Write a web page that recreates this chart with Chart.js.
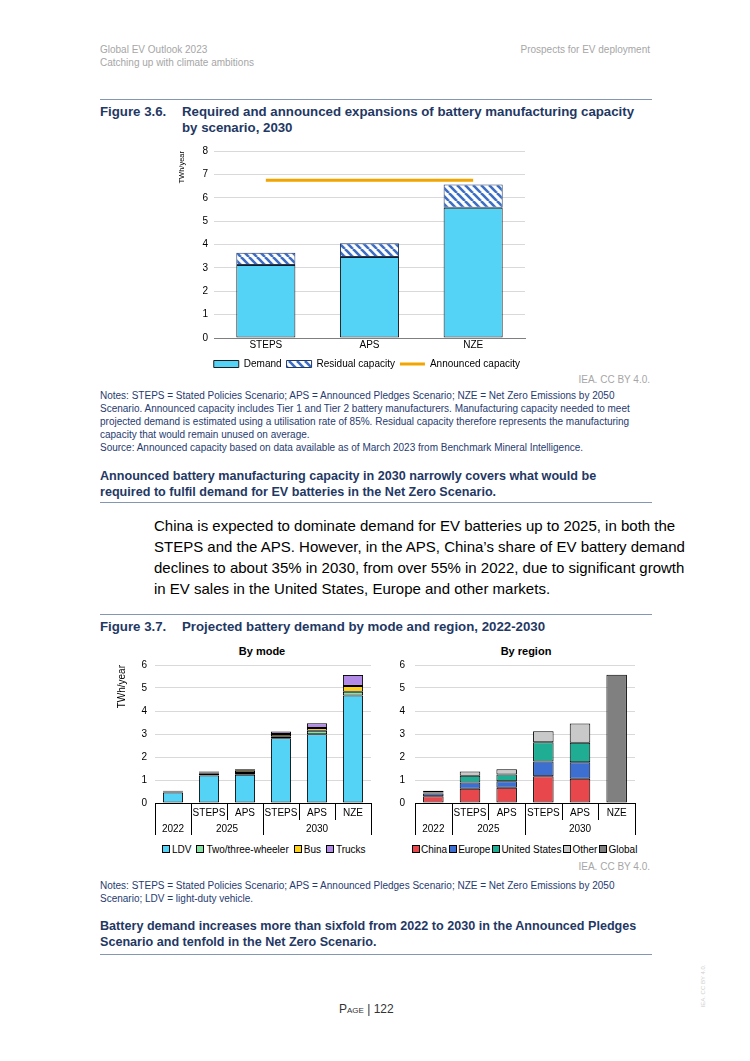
<!DOCTYPE html>
<html>
<head>
<meta charset="utf-8">
<script src="https://cdn.jsdelivr.net/npm/chart.js@4.4.0/dist/chart.umd.min.js"></script>
<style>
  body { margin: 0; width: 750px; height: 1061px; position: relative; background: #fff; overflow: hidden;
         font-family: Arial, "Liberation Sans", sans-serif; }
  .abs { position: absolute; white-space: nowrap; }
  .hdr { color: #a6a6a6; font-size: 10px; line-height: 13px; }
  .rule { position: absolute; left: 100px; width: 552px; height: 0; border-top: 1.5px solid #8497b0; }
  .ftitle { color: #1f3864; font-weight: bold; font-size: 13.25px; line-height: 16px; }
  .stmt { color: #1f3864; font-weight: bold; font-size: 12.6px; line-height: 16px; left: 100px; }
  .notes { color: #1f3b70; font-size: 10px; line-height: 13px; left: 100px; }
  .credit { color: #a6a6a6; font-size: 10px; line-height: 12px; right: 100px; }
  .body { position: absolute; left: 154px; width: 496px; font-size: 15px; line-height: 21px; color: #000; }
  .body div { text-align: justify; text-align-last: justify; white-space: nowrap; }
  .body div.last { text-align-last: left; }
  .box { position: absolute; }
  .sub { color: #000; font-weight: bold; font-size: 11px; line-height: 14px; text-align: center; }
  .leg { position: absolute; display: flex; align-items: center; font-size: 10px; color: #000; white-space: nowrap; }
  .leg span.sw { display: inline-block; width: 6px; height: 6px; border: 1px solid #000; margin-right: 2px; }
  .leg span.it { margin-right: 5px; display: inline-flex; align-items: center; }
  .leg.tight span.sw { margin-right: 1px; }
  .leg.tight span.it { margin-right: 2px; }
</style>
</head>
<body>

<div class="abs hdr" style="left:100px;top:43px">Global EV Outlook 2023</div>
<div class="abs hdr" style="left:100px;top:56px">Catching up with climate ambitions</div>
<div class="abs hdr" style="right:100px;top:43px">Prospects for EV deployment</div>

<div class="rule" style="top:99px"></div>
<div class="abs ftitle" style="left:100px;top:104px">Figure 3.6.</div>
<div class="abs ftitle" style="left:182px;top:104px">Required and announced expansions of battery manufacturing capacity<br>by scenario, 2030</div>

<div class="box" style="left:177px;top:145px;width:350px;height:234px"><canvas id="capChart"></canvas></div>

<div class="abs credit" style="top:374px">IEA. CC BY 4.0.</div>
<div class="abs notes" style="top:389px">Notes: STEPS = Stated Policies Scenario; APS = Announced Pledges Scenario; NZE = Net Zero Emissions by 2050<br>Scenario. Announced capacity includes Tier 1 and Tier 2 battery manufacturers. Manufacturing capacity needed to meet<br>projected demand is estimated using a utilisation rate of 85%. Residual capacity therefore represents the manufacturing<br>capacity that would remain unused on average.<br>Source: Announced capacity based on data available as of March 2023 from Benchmark Mineral Intelligence.</div>

<div class="abs stmt" style="top:468px">Announced battery manufacturing capacity in 2030 narrowly covers what would be<br>required to fulfil demand for EV batteries in the Net Zero Scenario.</div>
<div class="rule" style="top:502px"></div>

<div class="body" style="top:515px">
  <div>China is expected to dominate demand for EV batteries up to 2025, in both the</div>
  <div>STEPS and the APS. However, in the APS, China’s share of EV battery demand</div>
  <div>declines to about 35% in 2030, from over 55% in 2022, due to significant growth</div>
  <div class="last">in EV sales in the United States, Europe and other markets.</div>
</div>

<div class="rule" style="top:614px"></div>
<div class="abs ftitle" style="left:100px;top:619px">Figure 3.7.</div>
<div class="abs ftitle" style="left:182px;top:619px">Projected battery demand by mode and region, 2022-2030</div>

<div class="abs sub" style="left:212px;width:100px;top:644px">By mode</div>
<div class="abs sub" style="left:476px;width:100px;top:644px">By region</div>

<div class="box" style="left:116px;top:659px;width:260px;height:178px"><canvas id="modeChart"></canvas></div>
<div class="box" style="left:378px;top:659px;width:262px;height:178px"><canvas id="regionChart"></canvas></div>
<div class="leg" id="modeLegend" style="left:162px;top:843px;height:12px"></div>
<div class="leg tight" id="regionLegend" style="left:412px;top:843px;height:12px"></div>

<div class="abs credit" style="top:861px">IEA. CC BY 4.0.</div>
<div class="abs notes" style="top:879px">Notes: STEPS = Stated Policies Scenario; APS = Announced Pledges Scenario; NZE = Net Zero Emissions by 2050<br>Scenario; LDV = light-duty vehicle.</div>

<div class="abs stmt" style="top:918px">Battery demand increases more than sixfold from 2022 to 2030 in the Announced Pledges<br>Scenario and tenfold in the Net Zero Scenario.</div>
<div class="rule" style="top:954px"></div>

<div class="abs" style="left:339px;top:1002px;font-size:12px;color:#333;font-variant:small-caps">Page | 122</div>
<div class="abs" style="left:682px;top:983px;font-size:6px;color:#d0d0d0;transform:rotate(-90deg)">IEA. CC BY 4.0.</div>

<script>
// Figure 3.6 – capacity by scenario (TWh/year)
const scenarios = ["STEPS", "APS", "NZE"];
const demand = [3.12, 3.46, 5.57];
const residual = [0.53, 0.59, 1.0];
const announced = [6.75, 6.75, 6.75];
const capTicks = [0, 1, 2, 3, 4, 5, 6, 7, 8];

// Figure 3.7 – battery demand (TWh/year)
const periods = ["", "STEPS", "APS", "STEPS", "APS", "NZE"];
const years = ["2022", "2025", "2025", "2030", "2030", "2030"];
const modeNames = ["LDV", "Two/three-wheeler", "Bus", "Trucks"];
const ldv = [0.46, 1.20, 1.23, 2.82, 2.99, 4.67];
const twoThree = [0.04, 0.07, 0.07, 0.08, 0.15, 0.17];
const bus = [0.02, 0.06, 0.10, 0.10, 0.12, 0.25];
const trucks = [0.01, 0.04, 0.07, 0.11, 0.21, 0.48];
const regionNames = ["China", "Europe", "United States", "Other", "Global"];
const china = [0.29, 0.62, 0.66, 1.16, 1.05, null];
const europe = [0.12, 0.27, 0.29, 0.64, 0.72, null];
const unitedStates = [0.05, 0.29, 0.29, 0.84, 0.85, null];
const other = [0.07, 0.19, 0.23, 0.48, 0.84, null];
const globalTotal = [null, null, null, null, null, 5.58];
const demandTicks = [0, 1, 2, 3, 4, 5, 6];

const FONT = "Arial, 'Liberation Sans', sans-serif";
Chart.defaults.font.family = FONT;
Chart.defaults.font.size = 10;
Chart.defaults.color = "#222";
Chart.defaults.animation = false;

const modeColors = ["#55d3f7", "#86e3a3", "#ffd21a", "#b18be6"];
const regionColors = ["#e8474c", "#3d6fd0", "#1fae93", "#c9c9c9", "#808080"];

function hatch() {
    const s = 8;
    const c = document.createElement("canvas");
    c.width = s; c.height = s;
    const g = c.getContext("2d");
    g.fillStyle = "#fff";
    g.fillRect(0, 0, s, s);
    g.strokeStyle = "#3c6ec4";
    g.lineWidth = 2.6;
    for (const k of [-s, 0, s]) {
        g.beginPath(); g.moveTo(k, 0); g.lineTo(k + s, s); g.stroke();
    }
    return g.createPattern(c, "repeat");
}

// y axis: fixed width, no extra top/bottom padding from tick labels
function fixY(width) {
    return (s) => { s.width = width; s.paddingTop = 0; s.paddingBottom = 0; };
}

// two-row category axis (scenario / year) drawn from the x scale
const groupAxis = {
    id: "groupAxis",
    afterDraw(chart) {
        const x = chart.scales.x, ctx = chart.ctx;
        const n = chart.data.labels.length;
        const step = x.getPixelForValue(1) - x.getPixelForValue(0);
        const top = x.top;
        ctx.save();
        ctx.strokeStyle = "#000";
        ctx.lineWidth = 1;
        ctx.fillStyle = "#000";
        ctx.font = "10px " + FONT;
        ctx.textAlign = "center";
        ctx.textBaseline = "middle";
        for (let i = 0; i <= n; i++) {
            const px = Math.round(x.getPixelForValue(i) - step / 2) + 0.5;
            const edge = i === 0 || i === n || years[i] !== years[i - 1];
            ctx.beginPath();
            ctx.moveTo(px, top);
            ctx.lineTo(px, top + (edge ? 32 : 17));
            ctx.stroke();
        }
        chart.data.labels.forEach((p, i) => ctx.fillText(p, x.getPixelForValue(i), top + 10));
        let s = 0;
        for (let i = 1; i <= n; i++) {
            if (i === n || years[i] !== years[s]) {
                ctx.fillText(years[s], (x.getPixelForValue(s) + x.getPixelForValue(i - 1)) / 2, top + 26);
                s = i;
            }
        }
        ctx.restore();
    },
};

new Chart(document.getElementById("capChart"), {
    data: {
        labels: scenarios,
        datasets: [
            { type: "bar", label: "Demand", data: demand, stack: "cap", backgroundColor: "#55d3f7",
              borderColor: "#1a1a1a", borderWidth: 1, borderSkipped: false, barPercentage: 0.57, categoryPercentage: 1 },
            { type: "bar", label: "Residual capacity", data: residual, stack: "cap", backgroundColor: hatch(),
              borderColor: "#1f3864", borderWidth: 1, borderSkipped: false, barPercentage: 0.57, categoryPercentage: 1 },
            { type: "line", label: "Announced capacity", data: announced, stack: "line", borderColor: "#f0a500",
              borderWidth: 3, pointRadius: 0, fill: false },
        ],
    },
    options: {
        responsive: true,
        maintainAspectRatio: false,
        layout: { padding: { top: 6, right: 2, bottom: 0, left: 0 } },
        plugins: {
            tooltip: { enabled: false },
            legend: {
                position: "bottom",
                align: "end",
                labels: {
                    usePointStyle: true, pointStyleWidth: 25, boxHeight: 7, padding: 5, color: "#000",
                    generateLabels(chart) {
                        const items = Chart.defaults.plugins.legend.labels.generateLabels(chart);
                        items.forEach((it) => {
                            it.pointStyle = chart.data.datasets[it.datasetIndex].type === "line" ? "line" : "rect";
                        });
                        return items;
                    },
                },
            },
        },
        scales: {
            x: {
                stacked: true,
                grid: { display: false, drawTicks: false },
                border: { display: true, color: "#7f7f7f" },
                ticks: { padding: 1, color: "#000" },
                afterFit: (s) => { s.height = 16; },
            },
            y: {
                stacked: true, min: 0, max: 8,
                afterBuildTicks: (s) => { s.ticks = capTicks.map((v) => ({ value: v })); },
                grid: { color: "#d9d9d9", drawTicks: false },
                border: { display: false },
                ticks: { padding: 6, color: "#000" },
                title: { display: true, text: "TWh/year", align: "end", padding: 0, color: "#000", font: { size: 7.5 } },
                afterFit: fixY(37),
            },
        },
    },
});

function stackedChart(id, names, series, colors, withTitle, axisWidth, pad) {
    return new Chart(document.getElementById(id), {
        type: "bar",
        data: {
            labels: periods,
            datasets: series.map((d, i) => ({
                label: names[i], data: d, backgroundColor: colors[i], borderColor: "#000",
                borderWidth: 1, borderSkipped: false, barPercentage: 0.56, categoryPercentage: 1,
            })),
        },
        options: {
            responsive: true,
            maintainAspectRatio: false,
            layout: { padding: { top: 6, right: 5, bottom: 0, left: 0 } },
            plugins: { legend: { display: false }, tooltip: { enabled: false } },
            scales: {
                x: {
                    stacked: true,
                    grid: { display: false, drawTicks: false },
                    border: { display: true, color: "#000" },
                    ticks: { display: false },
                    afterFit: (s) => { s.height = 34; },
                },
                y: {
                    stacked: true, min: 0, max: 6,
                    afterBuildTicks: (s) => { s.ticks = demandTicks.map((v) => ({ value: v })); },
                    grid: { color: "#d9d9d9", drawTicks: false },
                    border: { display: false },
                    ticks: { padding: pad, color: "#000" },
                    title: { display: withTitle, text: "TWh/year", align: "end", padding: 0, color: "#000" },
                    afterFit: fixY(axisWidth),
                },
            },
        },
        plugins: [groupAxis],
    });
}

stackedChart("modeChart", modeNames, [ldv, twoThree, bus, trucks], modeColors, true, 39, 8);
stackedChart("regionChart", regionNames, [china, europe, unitedStates, other, globalTotal], regionColors, false, 37, 10);

function htmlLegend(id, names, colors) {
    const el = document.getElementById(id);
    names.forEach((n, i) => {
        const it = document.createElement("span");
        it.className = "it";
        it.innerHTML = '<span class="sw" style="background:' + colors[i] + '"></span>' + n;
        el.appendChild(it);
    });
}
htmlLegend("modeLegend", modeNames, modeColors);
htmlLegend("regionLegend", regionNames, regionColors);
</script>
</body>
</html>
